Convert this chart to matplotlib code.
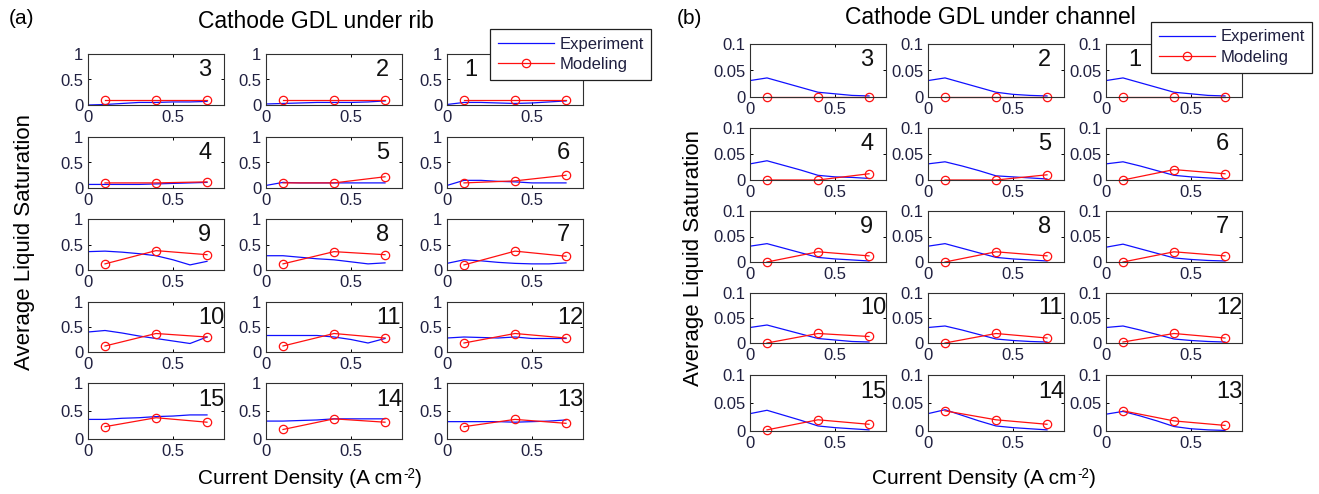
"""Average liquid saturation vs current density, cathode GDL under rib / channel."""

import matplotlib
matplotlib.use("Agg")
import matplotlib.pyplot as plt
from matplotlib.lines import Line2D

plt.rcParams["font.family"] = ["Liberation Sans", "DejaVu Sans"]

# ---- data -------------------------------------------------------------
grid_order = [[3, 2, 1], [4, 5, 6], [9, 8, 7], [10, 11, 12], [15, 14, 13]]

x_exp = [0.0, 0.1, 0.2, 0.3, 0.4, 0.5, 0.6, 0.7]
x_model = [0.1, 0.4, 0.7]

# (a) under rib
rib_exp = {
    1: [0.01, 0.05, 0.05, 0.04, 0.03, 0.04, 0.06, 0.08],
    2: [0.02, 0.03, 0.04, 0.05, 0.05, 0.05, 0.06, 0.08],
    3: [0.0, 0.01, 0.03, 0.05, 0.05, 0.06, 0.06, 0.07],
    4: [0.07, 0.07, 0.07, 0.07, 0.08, 0.09, 0.10, 0.11],
    5: [0.05, 0.11, 0.10, 0.10, 0.10, 0.10, 0.10, 0.10],
    6: [0.05, 0.15, 0.15, 0.13, 0.12, 0.10, 0.10, 0.10],
    7: [0.13, 0.20, 0.18, 0.15, 0.13, 0.12, 0.12, 0.14],
    8: [0.28, 0.28, 0.25, 0.22, 0.20, 0.16, 0.12, 0.14],
    9: [0.36, 0.37, 0.35, 0.32, 0.28, 0.20, 0.10, 0.17],
    10: [0.40, 0.43, 0.38, 0.32, 0.27, 0.22, 0.17, 0.30],
    11: [0.33, 0.33, 0.33, 0.33, 0.30, 0.25, 0.18, 0.27],
    12: [0.28, 0.30, 0.29, 0.28, 0.30, 0.27, 0.27, 0.27],
    13: [0.31, 0.31, 0.31, 0.31, 0.30, 0.31, 0.32, 0.34],
    14: [0.32, 0.32, 0.33, 0.34, 0.36, 0.36, 0.36, 0.36],
    15: [0.35, 0.35, 0.37, 0.38, 0.40, 0.41, 0.43, 0.43],
}
rib_model = {
    1: [0.10, 0.10, 0.10], 2: [0.10, 0.10, 0.10], 3: [0.10, 0.10, 0.10],
    4: [0.10, 0.10, 0.12], 5: [0.10, 0.10, 0.22], 6: [0.10, 0.14, 0.25],
    7: [0.10, 0.37, 0.27], 8: [0.12, 0.36, 0.30], 9: [0.12, 0.38, 0.30],
    10: [0.12, 0.37, 0.30], 11: [0.12, 0.37, 0.28], 12: [0.18, 0.37, 0.28],
    13: [0.22, 0.35, 0.28], 14: [0.17, 0.36, 0.30], 15: [0.22, 0.38, 0.30],
}

# (b) under channel
chan_exp = {
    1: [0.031, 0.036, 0.027, 0.018, 0.009, 0.006, 0.003, 0.002],
    2: [0.031, 0.036, 0.027, 0.018, 0.009, 0.005, 0.003, 0.002],
    3: [0.031, 0.036, 0.027, 0.018, 0.009, 0.006, 0.003, 0.002],
    4: [0.031, 0.037, 0.028, 0.019, 0.009, 0.006, 0.005, 0.003],
    5: [0.031, 0.035, 0.027, 0.018, 0.008, 0.006, 0.004, 0.002],
    6: [0.031, 0.035, 0.027, 0.018, 0.009, 0.006, 0.004, 0.002],
    7: [0.029, 0.035, 0.026, 0.017, 0.008, 0.005, 0.003, 0.002],
    8: [0.031, 0.036, 0.027, 0.018, 0.009, 0.006, 0.004, 0.002],
    9: [0.031, 0.036, 0.027, 0.018, 0.009, 0.006, 0.004, 0.002],
    10: [0.031, 0.036, 0.027, 0.018, 0.009, 0.006, 0.003, 0.002],
    11: [0.031, 0.034, 0.026, 0.017, 0.008, 0.005, 0.003, 0.002],
    12: [0.031, 0.034, 0.026, 0.017, 0.008, 0.005, 0.003, 0.002],
    13: [0.030, 0.035, 0.027, 0.018, 0.008, 0.004, 0.002, 0.001],
    14: [0.031, 0.038, 0.028, 0.018, 0.009, 0.006, 0.004, 0.002],
    15: [0.031, 0.037, 0.028, 0.019, 0.009, 0.006, 0.004, 0.002],
}
chan_model = {
    1: [0.0, 0.0, 0.0], 2: [0.0, 0.0, 0.0], 3: [0.0, 0.0, 0.0],
    4: [0.0, 0.0, 0.012], 5: [0.0, 0.0, 0.010], 6: [0.0, 0.020, 0.012],
    7: [0.0, 0.020, 0.012], 8: [0.0, 0.020, 0.012], 9: [0.0, 0.020, 0.012],
    10: [0.0, 0.019, 0.013], 11: [0.0, 0.019, 0.010], 12: [0.002, 0.019, 0.010],
    13: [0.036, 0.018, 0.010], 14: [0.036, 0.020, 0.012], 15: [0.002, 0.020, 0.012],
}

# ---- layout (pixels) --------------------------------------------------
W, H = 1319, 494
BLUE = "#1010ff"
RED = "#ff1010"
TICKC = "#202040"


def px_box(left, top, right, bottom):
    return [left / W, 1 - bottom / H, (right - left) / W, (bottom - top) / H]


def draw_panel(fig, exp, model, col_left, rows, ylim, yticks, yticklabels):
    for r, row in enumerate(grid_order):
        top, bottom = rows[r]
        for c, loc in enumerate(row):
            left = col_left[c]
            ax = fig.add_axes(px_box(left, top, left + 136, bottom))
            ax.plot(x_exp, exp[loc], color=BLUE, lw=0.9)
            ax.plot(x_model, model[loc], color=RED, lw=0.9, marker="o",
                    ms=6, mfc="none", mew=0.9, clip_on=False)
            ax.set_xlim(0, 0.8)
            ax.set_ylim(*ylim)
            ax.set_xticks([0, 0.5])
            ax.set_xticklabels(["0", "0.5"])
            ax.set_yticks(yticks)
            ax.set_yticklabels(yticklabels)
            ax.tick_params(direction="in", top=True, right=True, length=2.5,
                           width=0.7, labelsize=12, labelcolor=TICKC, pad=3.5)
            for sp in ax.spines.values():
                sp.set_linewidth(0.8)
                sp.set_color("#303030")
            tx = 0.81
            if loc == 1:
                tx = 0.13 if ylim[1] == 1 else 0.16
            ax.text(tx, 0.69, str(loc), transform=ax.transAxes, fontsize=17,
                    ha="left", va="center", color="#111111")


def sup_label(fig, xc, y_base, main, sup, tail, size=15):
    """Centred label with a plain-text superscript (keeps the hyphen)."""
    rend = fig.canvas.get_renderer()
    parts = [fig.text(0, 0, main, fontsize=size, va="baseline"),
             fig.text(0, 0, sup, fontsize=size * 0.65, va="baseline"),
             fig.text(0, 0, tail, fontsize=size, va="baseline")]
    widths = [p.get_window_extent(rend).width for p in parts]
    x = xc - sum(widths) / 2
    lifts = [0, 6.5, 0]
    for p, w, lift in zip(parts, widths, lifts):
        p.set_position((x / W, 1 - (y_base - lift) / H))
        x += w


fig = plt.figure(figsize=(W / 100, H / 100), dpi=100)

rows_a = [(54, 105), (137, 188), (219, 270), (302, 352), (383, 439)]
rows_b = [(44, 97), (128, 180), (211, 262), (293, 343), (375, 431)]

draw_panel(fig, rib_exp, rib_model, [88, 266, 447], rows_a,
           (0, 1), [0, 0.5, 1], ["0", "0.5", "1"])
draw_panel(fig, chan_exp, chan_model, [750, 928, 1106], rows_b,
           (0, 0.1), [0, 0.05, 0.1], ["0", "0.05", "0.1"])

# titles, panel tags, axis labels
fig.text(316 / W, 1 - 22 / H, "Cathode GDL under rib", fontsize=16.5,
         ha="center", va="center")
fig.text(990 / W, 1 - 18 / H, "Cathode GDL under channel", fontsize=16.5,
         ha="center", va="center")
fig.text(22 / W, 1 - 19 / H, "(a)", fontsize=15, ha="center", va="center")
fig.text(689 / W, 1 - 18 / H, "(b)", fontsize=15, ha="center", va="center")

sup_label(fig, 310, 484, "Current Density (A cm", "-2", ")")
sup_label(fig, 984, 484, "Current Density (A cm", "-2", ")")
fig.text(25 / W, 1 - 242 / H, "Average Liquid Saturation", fontsize=16,
         rotation=90, ha="center", va="center")
fig.text(693 / W, 1 - 258 / H, "Average Liquid Saturation", fontsize=16,
         rotation=90, ha="center", va="center")

# legends
handles = [
    Line2D([], [], color=BLUE, lw=0.9),
    Line2D([], [], color=RED, lw=0.9, marker="o", ms=6, mfc="none", mew=0.9),
]
for lx, ly in [(490, 29), (1151, 22)]:
    leg = fig.legend(handles, ["Experiment", "Modeling"], loc="upper left",
                     bbox_to_anchor=(lx / W, 1 - ly / H), fontsize=12,
                     frameon=True, fancybox=False, framealpha=1,
                     edgecolor="#202020", borderaxespad=0, borderpad=0.45,
                     handlelength=3.4, handletextpad=0.3, labelspacing=0.35,
                     numpoints=1)
    leg.get_frame().set_linewidth(0.9)
    for t in leg.get_texts():
        t.set_color(TICKC)

fig.savefig("out.png", dpi=100, facecolor="white")
plt.close(fig)
